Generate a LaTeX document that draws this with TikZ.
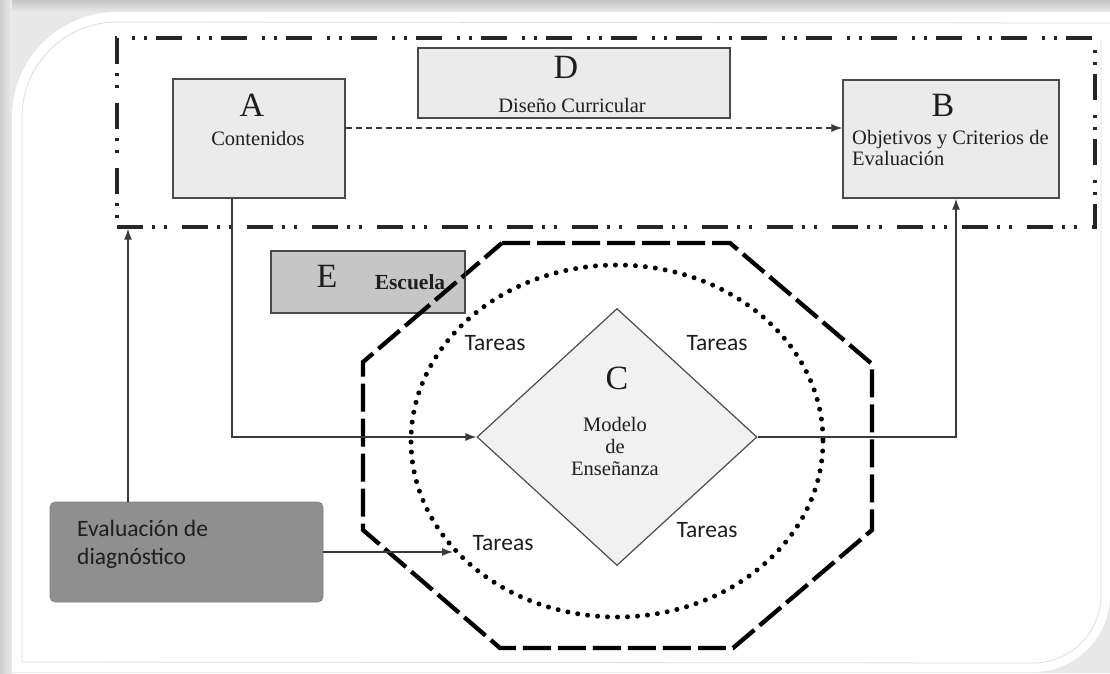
\documentclass[tikz,border=0pt]{standalone}
\usepackage{fontspec}
\setmainfont{Liberation Serif}
\newfontfamily\calfont{Carlito}
\usetikzlibrary{arrows.meta,shapes.geometric,calc}
\definecolor{boxfill}{HTML}{EBEBEB}
\definecolor{efill}{HTML}{C6C6C6}
\definecolor{evalfill}{HTML}{8F8F8F}
\definecolor{border}{HTML}{4A4A4A}
\definecolor{conncol}{HTML}{3A3A3A}
\definecolor{txt}{HTML}{1E1E1E}
\tikzset{
  boxnode/.style={draw=border, line width=1.4pt, fill=boxfill, inner sep=0pt},
  bigletter/.style={inner sep=0pt, text=txt, font=\fontsize{34}{36}\selectfont},
  smalltext/.style={inner sep=0pt, text=txt, font=\fontsize{20.5}{21}\selectfont},
  tareas/.style={inner sep=0pt, text=txt, font=\calfont\fontsize{23.5}{26}\selectfont},
  conn/.style={draw=conncol, line width=1.3pt, -{Latex[length=11pt,width=8pt]}},
  dashconn/.style={conn, dash pattern=on 6pt off 4pt},
  dashdotframe/.style={draw=black!85, line width=3.4pt, dash pattern=on 26pt off 9pt on 3pt off 9pt on 3pt off 15pt, inner sep=0pt},
  octline/.style={black, line width=4.3pt, dash pattern=on 28pt off 7pt},
}
\begin{document}
\begin{tikzpicture}[x=1pt,y=-1pt]
\useasboundingbox (0,0) rectangle (1110,673);
% background and panel
\fill[gray!18] (0,0) rectangle (1110,673);
\shade[top color=gray!45, bottom color=gray!15] (0,0) rectangle (1110,13);
\shade[left color=gray!40, right color=gray!15] (0,0) rectangle (12,673);
\fill[white] (12,673) -- (12,117) arc[start angle=180, end angle=270, radius=105] -- (1110,12) -- (1110,595) arc[start angle=0, end angle=90, radius=77] -- (12,672) -- cycle;
\draw[gray!25, line width=0.8pt] (22,662) -- (22,117) arc[start angle=180, end angle=270, radius=95] -- (1110,23);
\draw[gray!25, line width=0.8pt] (1101,40) -- (1101,595) arc[start angle=0, end angle=90, radius=68] -- (22,662);

% dash-dot frame
\node[dashdotframe, minimum width=978pt, minimum height=189pt] (frame) at (606,132.5) {};

% boxes
\node[boxnode, minimum width=172pt, minimum height=119pt] (A) at (259,138.5) {};
\node[bigletter] (Al) at (252,105) {A};
\node[smalltext] (At) at (258,138) {Contenidos};

\node[boxnode, minimum width=312pt, minimum height=70pt] (D) at (574,83) {};
\node[bigletter] (Dl) at (566,67) {D};
\node[smalltext] (Dt) at (572,105) {Diseño Curricular};

\node[boxnode, minimum width=216pt, minimum height=118pt] (B) at (951,139) {};
\node[bigletter] (Bl) at (943,105) {B};
\node[smalltext, anchor=west, align=left] (Bt) at (852,148) {Objetivos y Criterios de\\Evaluación};

% octagon (dashed) and dotted ellipse
\draw[octline]
  (502,243) -- (730,243) -- (872,364) -- (872,530) -- (733,648) -- (500,648) -- (363,530) -- (363,362) -- cycle;
\draw[black, line width=5pt, line cap=round, dash pattern=on 0pt off 10pt] (617,441) ellipse[x radius=206, y radius=176];

% E box
\node[draw=border, line width=1.4pt, fill=efill, minimum width=194pt, minimum height=62pt, inner sep=0pt] (E) at (368,282) {};
\node[bigletter] (El) at (327,276) {E};
\node[inner sep=0pt, text=txt, font=\bfseries\fontsize{21.5}{24}\selectfont] (Et) at (410,282) {Escuela};
% octagon part drawn over E box
\begin{scope}
\clip (271,251) rectangle (465,313);
\draw[octline, dash phase=10pt] (363,362) -- (502,243);
\end{scope}

% diamond C
\node[diamond, draw=gray!60!black, line width=1.2pt, fill=boxfill!70!white, minimum width=280pt, minimum height=257pt, inner sep=0pt] (C) at (617,437) {};
\node[bigletter] (Cl) at (617,378) {C};
\node[smalltext, align=center, font=\fontsize{20.5}{22}\selectfont] (Ct) at (615,446) {Modelo\\de\\Enseñanza};

% Tareas labels
\node[tareas] (t1) at (495,343) {Tareas};
\node[tareas] (t2) at (717,343) {Tareas};
\node[tareas] (t3) at (503,543) {Tareas};
\node[tareas] (t4) at (707,530) {Tareas};

% evaluation box
\node[draw=evalfill!90!black, line width=0.6pt, fill=evalfill, rounded corners=5pt, minimum width=273pt, minimum height=100pt, inner sep=0pt] (ev) at (186.5,552) {};
\node[inner sep=0pt, anchor=west, align=left, text=txt, font=\calfont\fontsize{23.5}{28}\selectfont] (evt) at (77,544) {Evaluación de\\diagnóstico};

% connectors
\coordinate (ylev) at (0,128);
\draw[dashconn] (A.east |- ylev) -- (B.west |- ylev);
\draw[conn] ([xshift=-27pt]A.south) |- (C.west);
\draw[conn] (C.east) -| ([xshift=5pt]B.south);
\draw[conn] ([xshift=-58.5pt]ev.north) -- ([xshift=-58.5pt]ev.north |- frame.south);
\coordinate (tg) at (453,552);
\draw[conn] (ev.east) -- (tg);
\end{tikzpicture}
\end{document}
